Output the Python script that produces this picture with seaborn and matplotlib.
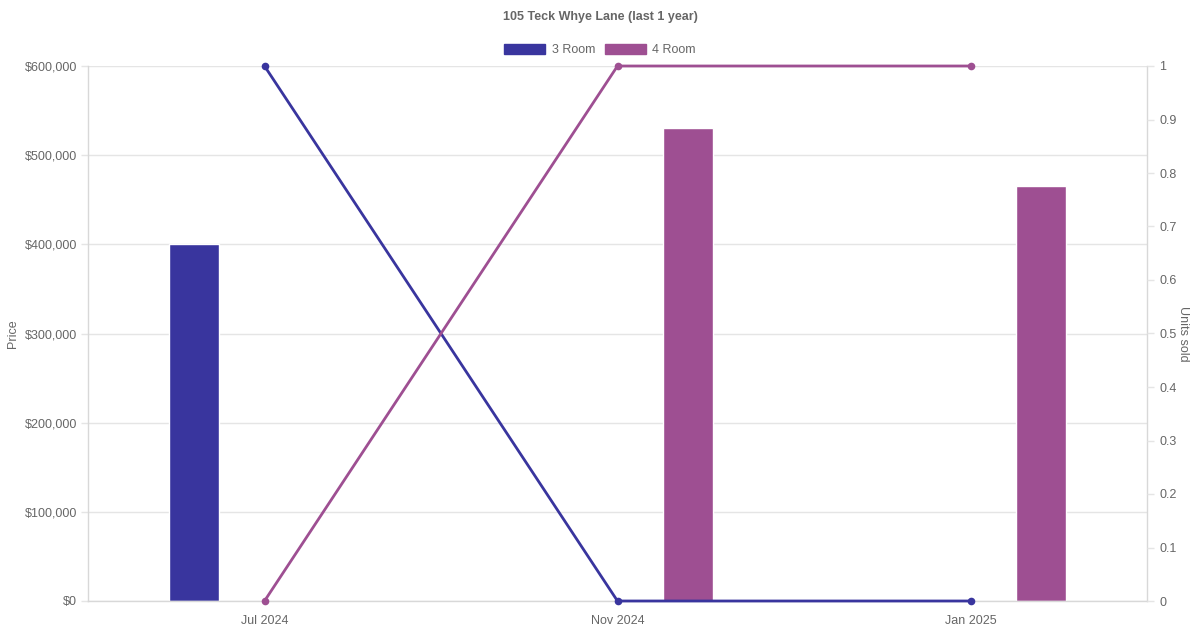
import pandas as pd
import matplotlib
matplotlib.use("Agg")
import matplotlib.pyplot as plt
import matplotlib.ticker as mticker
from matplotlib.patches import Patch
import seaborn as sns

# data
months = ["Jul 2024", "Nov 2024", "Jan 2025"]
flat_types = ["3 Room", "4 Room"]
price_3room = [400000, None, None]
price_4room = [None, 530000, 465000]
units_3room = [1, 0, 0]
units_4room = [0, 1, 1]

colors = {"3 Room": "#39359e", "4 Room": "#9e4f92"}
grey = "#666666"
grid_col = "#e5e5e5"


def build_frames():
    rows = []
    for i, m in enumerate(months):
        rows.append({"month": m, "idx": i, "type": "3 Room",
                     "price": price_3room[i], "units": units_3room[i]})
        rows.append({"month": m, "idx": i, "type": "4 Room",
                     "price": price_4room[i], "units": units_4room[i]})
    return pd.DataFrame(rows)


def main():
    df = build_frames()

    sns.set_theme(style="white")
    plt.rcParams["font.family"] = ["Liberation Sans", "DejaVu Sans"]

    fig = plt.figure(figsize=(12, 6.3), dpi=100)
    ax = fig.add_axes([88 / 1200, 1 - 601 / 630, (1147 - 88) / 1200, (601 - 66) / 630])

    sns.barplot(data=df, x="month", y="price", hue="type", hue_order=flat_types,
                order=months, palette=colors, width=0.8, gap=0.65,
                saturation=1, legend=False, ax=ax, zorder=2)
    ax.set_xlim(-0.5, 2.5)
    ax.set_ylim(0, 600000)
    ax.yaxis.set_major_locator(mticker.MultipleLocator(100000))
    ax.yaxis.set_major_formatter(mticker.FuncFormatter(lambda v, p: f"${v:,.0f}"))
    ax.grid(axis="y", color=grid_col, linewidth=1, zorder=0)
    ax.set_axisbelow(True)
    ax.set_xlabel("")
    ax.set_ylabel("Price", color=grey, fontsize=9, labelpad=4)
    ax.tick_params(axis="y", colors=grey, labelsize=9, length=5, width=1,
                   color=grid_col, pad=3)
    ax.tick_params(axis="x", colors=grey, labelsize=9, length=0, pad=10)
    ax.spines["top"].set_visible(False)
    for side in ["left", "bottom", "right"]:
        ax.spines[side].set_color("#d8d8d8")
        ax.spines[side].set_linewidth(1)

    ax2 = ax.twinx()
    sns.lineplot(data=df, x="idx", y="units", hue="type", hue_order=flat_types,
                 palette=colors, marker="o", markersize=5.5, markeredgewidth=0,
                 linewidth=2, legend=False, ax=ax2, zorder=3)
    ax2.set_xlim(-0.5, 2.5)
    ax2.set_ylim(0, 1)
    ax2.yaxis.set_major_locator(mticker.MultipleLocator(0.1))
    ax2.yaxis.set_major_formatter(mticker.FuncFormatter(lambda v, p: f"{v:g}"))
    ax2.set_ylabel("Units sold", color=grey, fontsize=9, rotation=270, labelpad=9)
    ax2.tick_params(axis="y", colors=grey, labelsize=9, length=5, width=1,
                    color=grid_col, pad=4)
    ax2.grid(False)
    for side in ["top", "left", "bottom", "right"]:
        ax2.spines[side].set_visible(False)
    for line in ax2.lines:
        line.set_clip_on(False)

    fig.text(0.5, 1 - 17 / 630, "105 Teck Whye Lane (last 1 year)", ha="center",
             va="center", fontsize=9, fontweight="bold", color=grey)

    handles = [Patch(facecolor=colors[t], edgecolor=colors[t], label=t) for t in flat_types]
    fig.legend(handles=handles, loc="center", bbox_to_anchor=(0.5, 1 - 50 / 630),
               ncol=2, frameon=False, fontsize=9, handlelength=3.3,
               handleheight=0.9, handletextpad=0.5, columnspacing=0.8,
               labelcolor=grey)

    fig.savefig("out.png", dpi=100)
    plt.close(fig)


if __name__ == "__main__":
    main()
